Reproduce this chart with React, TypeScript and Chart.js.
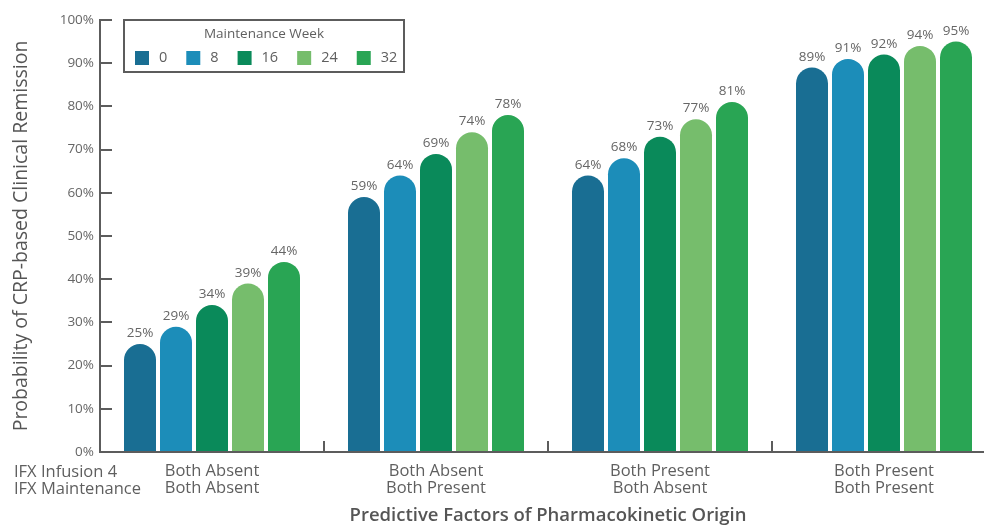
import React, { useEffect, useRef } from "react";
import { Chart, registerables } from "chart.js";

Chart.register(...registerables);

// Category labels: [IFX Infusion 4, IFX Maintenance]
const categories: string[][] = [
  ["Both Absent", "Both Absent"],
  ["Both Absent", "Both Present"],
  ["Both Present", "Both Absent"],
  ["Both Present", "Both Present"],
];
const rowLabels = ["IFX Infusion 4", "IFX Maintenance"];
const weeks = ["0", "8", "16", "24", "32"];

// Probability of remission (%) per maintenance week
const week0 = [25, 59, 64, 89];
const week8 = [29, 64, 68, 91];
const week16 = [34, 69, 73, 92];
const week24 = [39, 74, 77, 94];
const week32 = [44, 78, 81, 95];

const seriesValues = [week0, week8, week16, week24, week32];
const colors = ["#196e93", "#1c8db9", "#0a8a5a", "#76bd6c", "#29a554"];

const FONT = "'Open Sans', 'DejaVu Sans', sans-serif";
const AXIS_COLOR = "#5c5c5c";
const TEXT_COLOR = "#5f5f5f";

const chartDecor = {
  id: "chartDecor",
  afterDatasetsDraw(chart: any) {
    const ctx = chart.ctx as CanvasRenderingContext2D;
    const area = chart.chartArea;
    const xScale = chart.scales.x;
    const yScale = chart.scales.y;

    ctx.save();

    // value labels above bars
    ctx.font = `13.5px ${FONT}`;
    ctx.fillStyle = "#666666";
    ctx.textAlign = "center";
    ctx.textBaseline = "bottom";
    chart.data.datasets.forEach((ds: any, di: number) => {
      const meta = chart.getDatasetMeta(di);
      meta.data.forEach((bar: any, i: number) => {
        ctx.fillText(`${ds.data[i]}%`, bar.x, bar.y - 4);
      });
    });

    // axis lines
    ctx.strokeStyle = AXIS_COLOR;
    ctx.lineWidth = 2;
    ctx.beginPath();
    ctx.moveTo(area.left, area.top - 1);
    ctx.lineTo(area.left, area.bottom);
    ctx.lineTo(area.right, area.bottom);
    ctx.stroke();

    // inward y ticks
    ctx.beginPath();
    yScale.ticks.forEach((t: any) => {
      const y = Math.round(yScale.getPixelForValue(t.value));
      ctx.moveTo(area.left, y);
      ctx.lineTo(area.left + 12, y);
    });
    ctx.stroke();

    // category separators
    const n = chart.data.labels.length;
    const step = (xScale.right - xScale.left) / n;
    ctx.beginPath();
    for (let i = 1; i < n; i++) {
      const x = Math.round(xScale.left + i * step);
      ctx.moveTo(x, area.bottom);
      ctx.lineTo(x, area.bottom - 11);
    }
    ctx.stroke();

    // row labels for the category axis
    ctx.font = `16.5px ${FONT}`;
    ctx.fillStyle = TEXT_COLOR;
    ctx.textAlign = "left";
    ctx.textBaseline = "middle";
    rowLabels.forEach((t, i) => {
      ctx.fillText(t, 14, area.bottom + 20 + i * 17);
    });

    // legend box
    const lx = 124, ly = 20, lw = 280, lh = 52;
    ctx.strokeStyle = AXIS_COLOR;
    ctx.lineWidth = 2;
    ctx.fillStyle = "#ffffff";
    ctx.fillRect(lx, ly, lw, lh);
    ctx.strokeRect(lx, ly, lw, lh);
    ctx.fillStyle = TEXT_COLOR;
    ctx.font = `13.5px ${FONT}`;
    ctx.textAlign = "center";
    ctx.fillText("Maintenance Week", lx + lw / 2, ly + 14);
    ctx.font = `14.5px ${FONT}`;
    ctx.textAlign = "left";
    let x = 135;
    chart.data.datasets.forEach((ds: any) => {
      ctx.fillStyle = ds.backgroundColor;
      ctx.fillRect(x, 51, 14, 14);
      ctx.fillStyle = TEXT_COLOR;
      ctx.fillText(ds.label, x + 24, 58);
      x += 24 + ctx.measureText(ds.label).width + 19;
    });

    ctx.restore();
  },
};

export default function App() {
  const canvasRef = useRef<HTMLCanvasElement | null>(null);

  useEffect(() => {
    if (!canvasRef.current) return;
    const chart = new Chart(canvasRef.current, {
      type: "bar",
      data: {
        labels: categories,
        datasets: weeks.map((w, i) => ({
          label: w,
          data: seriesValues[i],
          backgroundColor: colors[i],
          borderWidth: 0,
          borderRadius: { topLeft: 16, topRight: 16, bottomLeft: 0, bottomRight: 0 },
          borderSkipped: "bottom",
          categoryPercentage: 180 / 224,
          barPercentage: 32 / 36,
        })),
      },
      options: {
        responsive: false,
        animation: false,
        devicePixelRatio: 1,
        layout: { padding: { top: 20, right: 14, bottom: 0, left: 0 } },
        plugins: {
          legend: { display: false },
          tooltip: { enabled: false },
        },
        scales: {
          x: {
            grid: { display: false, drawTicks: false },
            border: { display: false },
            ticks: {
              padding: 11,
              color: TEXT_COLOR,
              font: { family: FONT, size: 16.5, lineHeight: 1.03 },
              maxRotation: 0,
              autoSkip: false,
            },
            title: {
              display: true,
              text: "Predictive Factors of Pharmacokinetic Origin",
              color: "#555555",
              font: { family: FONT, size: 18.5, weight: "600", lineHeight: 1 },
              padding: { top: 0, bottom: 0 },
            },
            afterFit(scale: any) {
              scale.height = 73;
            },
          },
          y: {
            min: 0,
            max: 100,
            grid: { display: false, drawTicks: false },
            border: { display: false },
            ticks: {
              stepSize: 10,
              padding: 6,
              color: "#666666",
              font: { family: FONT, size: 13.5 },
              callback: (v: any) => `${v}%`,
            },
            title: {
              display: true,
              text: "Probability of CRP-based Clinical Remission",
              color: "#555555",
              font: { family: FONT, size: 19.5, lineHeight: 1.2 },
              padding: { top: 10, bottom: 0 },
            },
            afterFit(scale: any) {
              scale.width = 100;
            },
          },
        },
      },
      plugins: [chartDecor],
    } as any);
    return () => chart.destroy();
  }, []);

  return (
    <div
      style={{
        position: "fixed",
        left: 0,
        top: 0,
        width: 984,
        height: 525,
        overflow: "hidden",
        background: "#ffffff",
      }}
    >
      <canvas ref={canvasRef} width={1010} height={525} style={{ display: "block" }} />
    </div>
  );
}
